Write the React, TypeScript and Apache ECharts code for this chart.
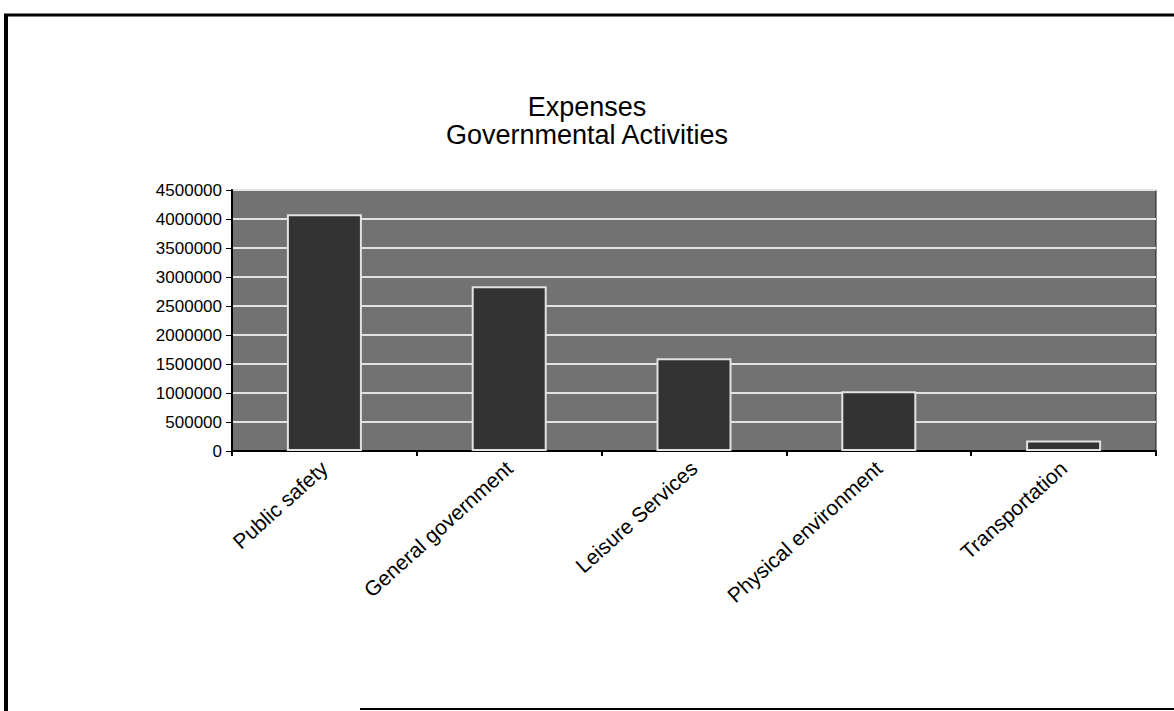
import React, { useEffect, useRef } from "react";
import * as echarts from "echarts";

const categories = [
  "Public safety",
  "General government",
  "Leisure Services",
  "Physical environment",
  "Transportation",
];
const expenses = [4080000, 2840000, 1600000, 1030000, 180000];
const titleLines = ["Expenses", "Governmental Activities"];

const FONT = "'Liberation Sans', Arial, sans-serif";

export default function App() {
  const ref = useRef<HTMLDivElement>(null);
  useEffect(() => {
    document.body.style.margin = "0";
    if (!ref.current) return;
    const chart = echarts.init(ref.current, null, { renderer: "svg" });
    chart.setOption({
      animation: false,
      backgroundColor: "#ffffff",
      title: {
        text: titleLines.join("\n"),
        left: "center",
        top: 88,
        textStyle: {
          fontFamily: FONT,
          fontSize: 27,
          fontWeight: "normal",
          color: "#000",
          lineHeight: 28,
        },
      },
      grid: {
        left: 232,
        right: 18,
        top: 190,
        bottom: 260,
        show: true,
        backgroundColor: "#727272",
        borderColor: "#1a1a1a",
        borderWidth: 1,
        containLabel: false,
      },
      xAxis: {
        type: "category",
        data: categories,
        axisLine: { show: true, lineStyle: { color: "#000", width: 2 } },
        axisTick: { show: true, length: 5, lineStyle: { color: "#000", width: 2 } },
        axisLabel: {
          rotate: 42,
          interval: 0,
          margin: 14,
          fontFamily: FONT,
          fontSize: 21,
          color: "#000",
        },
      },
      yAxis: {
        type: "value",
        min: 0,
        max: 4500000,
        interval: 500000,
        axisLine: { show: true, lineStyle: { color: "#000", width: 2 } },
        axisTick: { show: true, length: 6, lineStyle: { color: "#000", width: 1 } },
        axisLabel: {
          margin: 10,
          fontFamily: FONT,
          fontSize: 17,
          color: "#000",
          formatter: (v: number) => String(v),
        },
        splitLine: { show: true, lineStyle: { color: "#e2e2e2", width: 2 } },
      },
      series: [
        {
          type: "bar",
          data: expenses,
          barWidth: 75,
          itemStyle: {
            color: "#333333",
            borderColor: "#e2e2e2",
            borderWidth: 2,
          },
        },
      ],
      graphic: [
        { type: "line", shape: { x1: 6, y1: 15, x2: 6, y2: 711 }, style: { stroke: "#000", lineWidth: 4 } },
        { type: "line", shape: { x1: 4, y1: 15, x2: 1174, y2: 15 }, style: { stroke: "#000", lineWidth: 3 } },
        { type: "line", shape: { x1: 360, y1: 709, x2: 1174, y2: 709 }, style: { stroke: "#000", lineWidth: 2 } },
      ],
    });
    return () => chart.dispose();
  }, []);
  return <div ref={ref} style={{ width: 1174, height: 711 }} />;
}
